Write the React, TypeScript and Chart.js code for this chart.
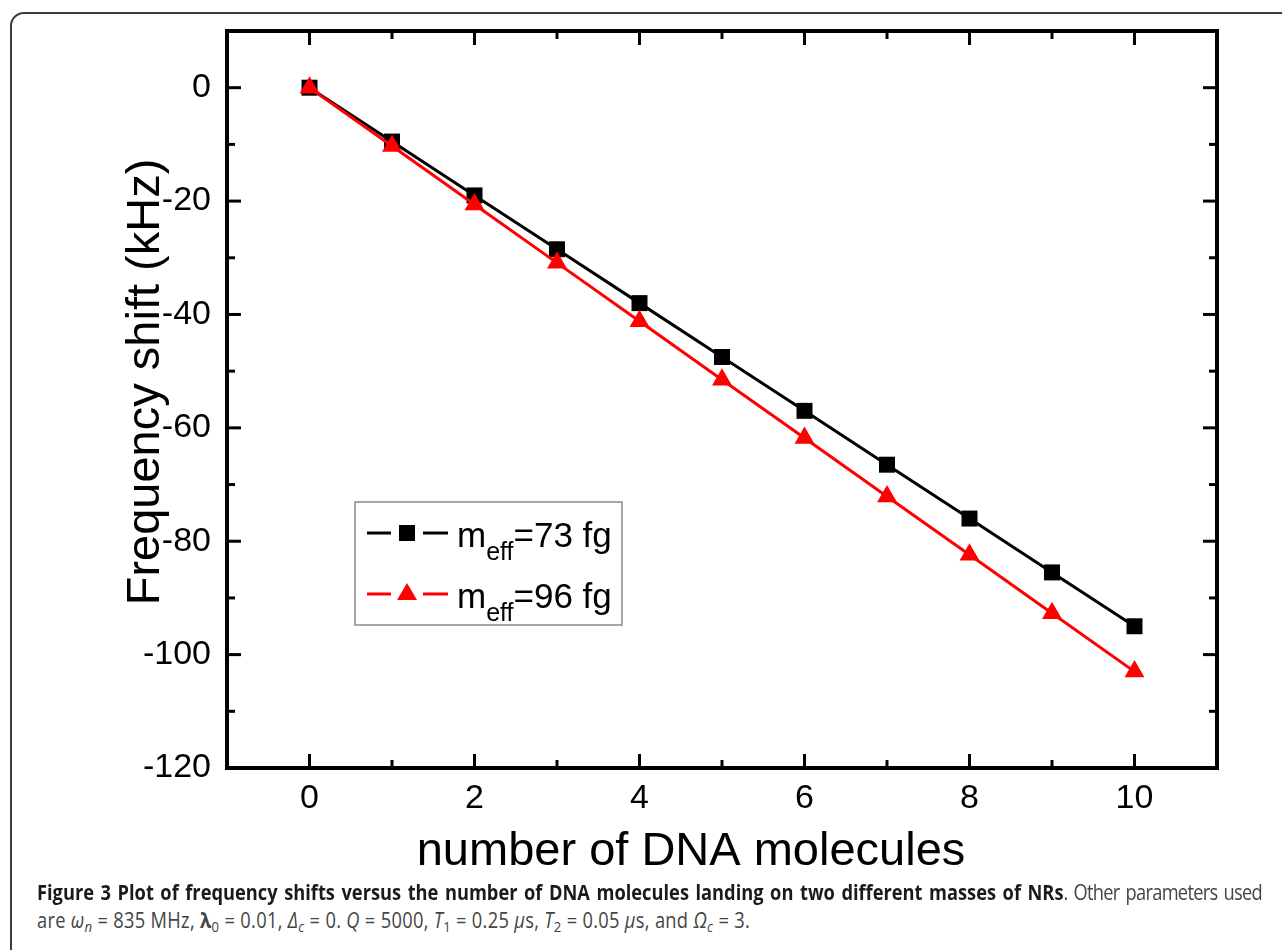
import React, { useEffect, useRef } from 'react';
import { Chart, registerables } from 'chart.js';

Chart.register(...registerables);

// ---------- data ----------
const molecules = [0, 1, 2, 3, 4, 5, 6, 7, 8, 9, 10];
const shift73 = [0, -9.5, -19, -28.5, -38, -47.5, -57, -66.5, -76, -85.5, -95];
const shift96 = [0, -10.3, -20.6, -30.9, -41.2, -51.5, -61.8, -72.1, -82.4, -92.7, -103];

const xMajorTicks = [0, 2, 4, 6, 8, 10];
const xMinorTicks = [1, 3, 5, 7, 9];
const yMajorTicks = [-120, -100, -80, -60, -40, -20, 0];
const yMinorTicks = [-110, -90, -70, -50, -30, -10];

const legendMain = ['m', 'm'];
const legendSub = ['eff', 'eff'];
const legendRest = ['=73 fg', '=96 fg'];

const xTitle = 'number of DNA molecules';
const yTitle = 'Frequency shift (kHz)';

const FONT = "'Liberation Sans', Arial, Helvetica, sans-serif";
const BLACK = '#000000';
const RED = '#ff0000';

const framePlugin = {
  id: 'originFrame',
  afterDraw(chart: any) {
    const { ctx, chartArea: a, scales } = chart;
    const xs = scales.x;
    const ys = scales.y;
    ctx.save();
    ctx.strokeStyle = '#000';
    ctx.lineCap = 'butt';
    const seg = (x1: number, y1: number, x2: number, y2: number) => {
      ctx.beginPath();
      ctx.moveTo(x1, y1);
      ctx.lineTo(x2, y2);
      ctx.stroke();
    };
    ctx.lineWidth = 3;
    const MAJ = 14;
    const MIN = 8;
    xMajorTicks.forEach((v) => {
      const p = xs.getPixelForValue(v);
      seg(p, a.bottom, p, a.bottom - MAJ);
      seg(p, a.top, p, a.top + MAJ);
    });
    xMinorTicks.forEach((v) => {
      const p = xs.getPixelForValue(v);
      seg(p, a.bottom, p, a.bottom - MIN);
      seg(p, a.top, p, a.top + MIN);
    });
    yMajorTicks.forEach((v) => {
      const p = ys.getPixelForValue(v);
      seg(a.left, p, a.left + MAJ, p);
      seg(a.right, p, a.right - MAJ, p);
    });
    yMinorTicks.forEach((v) => {
      const p = ys.getPixelForValue(v);
      seg(a.left, p, a.left + MIN, p);
      seg(a.right, p, a.right - MIN, p);
    });
    ctx.lineWidth = 4;
    ctx.strokeRect(a.left, a.top, a.right - a.left, a.bottom - a.top);

    // axis titles
    ctx.fillStyle = '#000';
    ctx.font = `47px ${FONT}`;
    ctx.textAlign = 'center';
    ctx.textBaseline = 'middle';
    ctx.fillText(xTitle, a.left + 464, a.bottom + 84);
    ctx.save();
    ctx.translate(a.left - 81, a.top + 351);
    ctx.rotate(-Math.PI / 2);
    ctx.fillText(yTitle, 0, 0);
    ctx.restore();

    // legend box
    const lx = a.left + 128;
    const ly = a.top + 471;
    const lw = 267;
    const lh = 123;
    ctx.fillStyle = '#ffffff';
    ctx.fillRect(lx, ly, lw, lh);
    ctx.strokeStyle = '#8a8a8a';
    ctx.lineWidth = 1.5;
    ctx.strokeRect(lx, ly, lw, lh);

    const colors = [BLACK, RED];
    for (let i = 0; i < 2; i++) {
      const cy = ly + 31 + i * 61;
      const col = colors[i];
      ctx.strokeStyle = col;
      ctx.fillStyle = col;
      ctx.lineWidth = 3;
      seg(lx + 12, cy, lx + 36, cy);
      seg(lx + 68, cy, lx + 93, cy);
      const mx = lx + 52;
      if (i === 0) {
        ctx.fillRect(mx - 8, cy - 8, 16, 16);
      } else {
        ctx.beginPath();
        ctx.moveTo(mx, cy - 11);
        ctx.lineTo(mx + 10, cy + 6);
        ctx.lineTo(mx - 10, cy + 6);
        ctx.closePath();
        ctx.fill();
      }
      ctx.fillStyle = '#000';
      ctx.textAlign = 'left';
      ctx.textBaseline = 'alphabetic';
      const base = cy + 14;
      let tx = lx + 102;
      ctx.font = `35px ${FONT}`;
      ctx.fillText(legendMain[i], tx, base);
      tx += ctx.measureText(legendMain[i]).width;
      ctx.font = `25px ${FONT}`;
      ctx.fillText(legendSub[i], tx, base + 13);
      tx += ctx.measureText(legendSub[i]).width;
      ctx.font = `35px ${FONT}`;
      ctx.fillText(legendRest[i], tx, base);
    }
    ctx.restore();
  },
};

function PlotChart() {
  const ref = useRef<HTMLCanvasElement | null>(null);
  useEffect(() => {
    if (!ref.current) return;
    const chart = new Chart(ref.current, {
      type: 'line',
      data: {
        datasets: [
          {
            label: 'm_eff=96 fg',
            data: molecules.map((m, i) => ({ x: m, y: shift96[i] })),
            borderColor: RED,
            backgroundColor: RED,
            borderWidth: 3,
            pointStyle: 'triangle',
            pointRadius: 11.5,
            pointBorderWidth: 0,
            pointBackgroundColor: RED,
            tension: 0,
            order: 0,
          },
          {
            label: 'm_eff=73 fg',
            data: molecules.map((m, i) => ({ x: m, y: shift73[i] })),
            borderColor: BLACK,
            backgroundColor: BLACK,
            borderWidth: 3,
            pointStyle: 'rect',
            pointRadius: 11.3,
            pointBorderWidth: 0,
            pointBackgroundColor: BLACK,
            tension: 0,
            order: 1,
          },
        ],
      },
      options: {
        animation: false,
        responsive: false,
        layout: { padding: { top: 31, right: 65, left: 0, bottom: 0 }, autoPadding: false },
        plugins: { legend: { display: false }, tooltip: { enabled: false } },
        scales: {
          x: {
            type: 'linear',
            min: -1,
            max: 11,
            afterBuildTicks: (s: any) => {
              s.ticks = xMajorTicks.map((v) => ({ value: v }));
            },
            afterFit: (s: any) => {
              s.height = 112;
              s.paddingLeft = 0;
              s.paddingRight = 0;
            },
            grid: { display: false, drawTicks: false },
            border: { display: false },
            ticks: {
              color: '#000',
              font: { family: FONT, size: 34 },
              padding: 10,
              maxRotation: 0,
              autoSkip: false,
            },
            title: { display: false },
          },
          y: {
            type: 'linear',
            min: -120,
            max: 10,
            afterBuildTicks: (s: any) => {
              s.ticks = yMajorTicks.map((v) => ({ value: v }));
            },
            afterFit: (s: any) => {
              s.width = 227;
              s.paddingTop = 0;
              s.paddingBottom = 0;
            },
            grid: { display: false, drawTicks: false },
            border: { display: false },
            ticks: {
              color: '#000',
              font: { family: FONT, size: 34 },
              padding: 16,
              autoSkip: false,
            },
            title: { display: false },
          },
        },
      },
      plugins: [framePlugin],
    } as any);
    return () => chart.destroy();
  }, []);
  return <canvas ref={ref} width={1282} height={880} style={{ display: 'block' }} />;
}

const sub: React.CSSProperties = { fontSize: '0.72em', verticalAlign: '-0.28em', lineHeight: 0 };

export default function App() {
  const SX = 0.87;
  const capBase: React.CSSProperties = {
    position: 'absolute',
    left: 37,
    fontFamily: "'Open Sans', 'Noto Sans', sans-serif",
    fontSize: 21,
    lineHeight: '28px',
    color: '#444444',
    whiteSpace: 'nowrap',
    transform: `scaleX(${SX})`,
    transformOrigin: 'left top',
  };
  return (
    <div
      style={{
        position: 'absolute',
        left: 0,
        top: 0,
        width: 1282,
        height: 950,
        overflow: 'hidden',
        background: '#ffffff',
      }}
    >
      <div
        style={{
          position: 'absolute',
          left: 10,
          top: 12,
          width: 1320,
          height: 950,
          border: '2px solid #3c3c3c',
          borderRadius: 14,
          boxSizing: 'border-box',
        }}
      />
      <div style={{ position: 'absolute', left: 0, top: 0 }}>
        <PlotChart />
      </div>
      <div
        style={{
          ...capBase,
          top: 878,
          width: (1262 - 37) / SX,
          textAlign: 'justify',
          textAlignLast: 'justify',
        }}
      >
        <b style={{ color: '#1a1a1a' }}>
          Figure 3 Plot of frequency shifts versus the number of DNA molecules landing on two different masses of NRs
        </b>
        <span style={{ letterSpacing: '-0.8px' }}>. Other parameters used</span>
      </div>
      <div style={{ ...capBase, top: 906, letterSpacing: '0.35px' }}>
        are <i>ω<sub style={sub}>n</sub></i> = 835 MHz, <b>λ</b>
        <sub style={sub}>0</sub> = 0.01, <i>Δ<sub style={sub}>c</sub></i> = 0. <i>Q</i> = 5000,{' '}
        <i>T</i>
        <sub style={sub}>1</sub> = 0.25 <i>μ</i>s, <i>T</i>
        <sub style={sub}>2</sub> = 0.05 <i>μ</i>s, and <i>Ω<sub style={sub}>c</sub></i> = 3.
      </div>
    </div>
  );
}
